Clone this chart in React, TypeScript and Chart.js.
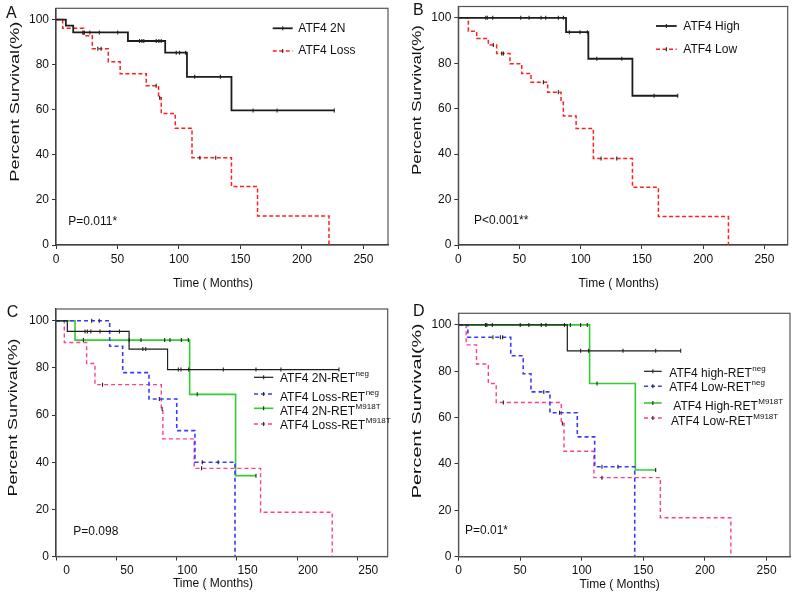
import React, { useEffect, useRef } from "react";
import { Chart, registerables } from "chart.js";

Chart.register(...registerables);

const FONT = "'Liberation Sans', Arial, Helvetica, sans-serif";

const X_TICKS = [0, 50, 100, 150, 200, 250];
const Y_TICKS = [0, 20, 40, 60, 80, 100];
const Y_MAX = 105;

// ---------- Panel A ----------
const A_2N_EVENT_TIME = [8, 14, 58.5, 88.8, 106.5, 142.7];
const A_2N_EVENT_SURV = [97.3, 94.3, 90.5, 85.3, 74.6, 59.7];
const A_2N_CENSOR_TIME = [21.7, 23, 27.5, 35.3, 50.2, 67.9, 69.8, 71.4, 81.5, 83.6, 85.6, 97.8, 100.5, 105.4, 112.8, 133.7, 160.3, 179.8, 226.3];
const A_LOSS_EVENT_TIME = [5.4, 22.5, 29.5, 42.5, 52.2, 73.4, 83.4, 85.6, 97, 110.6, 142.7, 163.9, 222];
const A_LOSS_EVENT_SURV = [96.1, 92.8, 87.1, 81.3, 76, 70.6, 65.3, 58.3, 51.8, 38.7, 25.9, 12.9, 0];
const A_LOSS_CENSOR_TIME = [34, 36.7, 81.5, 84.3, 117, 129.9];

// ---------- Panel B ----------
const B_HIGH_EVENT_TIME = [88, 106.2, 142.2];
const B_HIGH_EVENT_SURV = [93.7, 82, 65.7];
const B_HIGH_CENSOR_TIME = [22.4, 23.7, 28.1, 51, 57.8, 67.6, 71.4, 81.7, 85.8, 90.7, 99.4, 105.4, 113.1, 133.5, 159.9, 179.2];
const B_LOW_EVENT_TIME = [8.2, 15, 24.5, 31.3, 42.2, 51.8, 59.4, 73, 83.9, 85.8, 96.2, 110.3, 142.2, 163.4, 220.6];
const B_LOW_EVENT_SURV = [94.1, 90.9, 88, 84.3, 79.8, 75.5, 71.6, 67.2, 62.8, 56.8, 51.3, 38.1, 25.4, 12.5, 0];
const B_LOW_CENSOR_TIME = [28.6, 35.5, 36.8, 69.5, 81.7, 116.6, 129.4];

// ---------- Panel C ----------
const C_2N_NEG_EVENT_TIME = [9.4, 60.6, 92.5];
const C_2N_NEG_EVENT_SURV = [95.5, 88, 79.3];
const C_2N_NEG_CENSOR_TIME = [24.1, 26, 28.9, 36.5, 52.6, 72, 74.4, 101.4, 103.6, 110, 138.7, 165.8, 186.5, 234.6];
const C_LOSS_NEG_EVENT_TIME = [44.5, 55.3, 77.1, 100.1, 115.2, 148.4];
const C_LOSS_NEG_EVENT_SURV = [89.2, 78, 66.8, 53.4, 40, 0];
const C_LOSS_NEG_CENSOR_TIME = [29.6, 35.9, 85.7, 121.3, 134.5];
const C_2N_M918T_EVENT_TIME = [15.8, 110.8, 148.9];
const C_2N_M918T_EVENT_SURV = [91.8, 68.8, 34.3];
const C_2N_M918T_CENSOR_TIME = [22.7, 60.7, 70.5, 90.1, 94.5, 103.9, 109.7, 117.1, 165.8];
const C_LOSS_M918T_EVENT_TIME = [6.9, 25.4, 32.3, 87.3, 88.6, 114.6, 169.6, 229];
const C_LOSS_M918T_EVENT_SURV = [90.8, 81.9, 72.9, 62.6, 49.9, 37.4, 18.8, 0];
const C_LOSS_M918T_CENSOR_TIME = [38.6, 88, 120.7];

// ---------- Panel D ----------
const D_HIGH_NEG_EVENT_TIME = [88.3];
const D_HIGH_NEG_EVENT_SURV = [88.8];
const D_HIGH_NEG_CENSOR_TIME = [21.9, 23, 27.4, 50.1, 57.1, 67.2, 71, 86, 99.1, 105.6, 133.5, 160, 180.3];
const D_LOW_NEG_EVENT_TIME = [7.6, 42.4, 52.5, 58.8, 74.2, 96.4, 110.5, 143];
const D_LOW_NEG_EVENT_SURV = [94.7, 86.7, 78.9, 71.1, 62.1, 51.7, 38.8, 0];
const D_LOW_NEG_CENSOR_TIME = [27.9, 34, 35.8, 69.2, 82, 116.4, 129.4];
const D_HIGH_M918T_EVENT_TIME = [106.4, 143.5];
const D_HIGH_M918T_EVENT_SURV = [74.7, 37.4];
const D_HIGH_M918T_CENSOR_TIME = [90.8, 99.1, 104.5, 112.4, 160];
const D_LOW_M918T_EVENT_TIME = [6.2, 14.6, 24.2, 30.6, 83.4, 85.6, 109.9, 163.8, 221];
const D_LOW_M918T_EVENT_SURV = [91.4, 83.1, 74.7, 66.5, 57.5, 45.5, 34.1, 16.8, 0];
const D_LOW_M918T_CENSOR_TIME = [36.4, 84.3, 116.4];

type SeriesDef = {
  label: string;
  sup?: string;
  eventT: number[];
  eventS: number[];
  censorT: number[];
  color: string;
  width: number;
  dash: number[];
};

type PanelDef = {
  box: { left: number; top: number; w: number; h: number };
  area: { l: number; t: number; r: number; b: number };
  xMax: number;
  xLabelOffset: number;
  letter: { text: string; x: number; y: number };
  pval: { text: string; x: number; y: number };
  xTitle: { x: number; y: number };
  yTitle: { x: number; y: number; len: number };
  legend: { x1: number; x2: number; textX: number[]; lineY: number[]; textY: number[] };
  series: SeriesDef[];
};

const BLACK = "#1c1c1c";
const RED = "#ff1f1f";
const BLUE = "#3a3aff";
const GREEN = "#33cc33";
const PINK = "#ff3d8e";

const PANELS: PanelDef[] = [
  {
    box: { left: 0, top: 0, w: 400, h: 295 },
    area: { l: 56, t: 8.3, r: 388, b: 245 },
    xMax: 270,
    xLabelOffset: 0,
    letter: { text: "A", x: 6, y: 14 },
    pval: { text: "P=0.011*", x: 68.3, y: 221.7 },
    xTitle: { x: 213, y: 284 },
    yTitle: { x: 16, y: 101.7, len: 160 },
    legend: { x1: 272.7, x2: 292.7, textX: [298.3, 298.3], lineY: [28.3, 51], textY: [28.5, 51] },
    series: [
      { label: "ATF4 2N", eventT: A_2N_EVENT_TIME, eventS: A_2N_EVENT_SURV, censorT: A_2N_CENSOR_TIME, color: BLACK, width: 1.8, dash: [] },
      { label: "ATF4 Loss", eventT: A_LOSS_EVENT_TIME, eventS: A_LOSS_EVENT_SURV, censorT: A_LOSS_CENSOR_TIME, color: RED, width: 1.5, dash: [4, 2.5] },
    ],
  },
  {
    box: { left: 400, top: 0, w: 400, h: 295 },
    area: { l: 58.3, t: 6.5, r: 387.7, b: 245 },
    xMax: 269,
    xLabelOffset: 0,
    letter: { text: "B", x: 13, y: 11 },
    pval: { text: "P<0.001**", x: 74, y: 220.8 },
    xTitle: { x: 218.7, y: 283.7 },
    yTitle: { x: 17.2, y: 100, len: 150 },
    legend: { x1: 256, x2: 276.7, textX: [283.3, 283.3], lineY: [26, 49.3], textY: [26.2, 49.2] },
    series: [
      { label: "ATF4 High", eventT: B_HIGH_EVENT_TIME, eventS: B_HIGH_EVENT_SURV, censorT: B_HIGH_CENSOR_TIME, color: BLACK, width: 1.8, dash: [] },
      { label: "ATF4 Low", eventT: B_LOW_EVENT_TIME, eventS: B_LOW_EVENT_SURV, censorT: B_LOW_CENSOR_TIME, color: RED, width: 1.5, dash: [4, 2.5] },
    ],
  },
  {
    box: { left: 0, top: 295, w: 400, h: 304 },
    area: { l: 56, t: 14, r: 387.7, b: 261.5 },
    xMax: 275,
    xLabelOffset: 10.7,
    letter: { text: "C", x: 6.7, y: 17.5 },
    pval: { text: "P=0.098", x: 73.3, y: 236.7 },
    xTitle: { x: 213, y: 289 },
    yTitle: { x: 13.5, y: 122.5, len: 158 },
    legend: { x1: 254, x2: 273.3, textX: [280, 280, 280, 280], lineY: [82.3, 99, 113.3, 129], textY: [84, 102.5, 117, 131] },
    series: [
      { label: "ATF4 2N-RET", sup: "neg", eventT: C_2N_NEG_EVENT_TIME, eventS: C_2N_NEG_EVENT_SURV, censorT: C_2N_NEG_CENSOR_TIME, color: BLACK, width: 1.2, dash: [] },
      { label: "ATF4 Loss-RET", sup: "neg", eventT: C_LOSS_NEG_EVENT_TIME, eventS: C_LOSS_NEG_EVENT_SURV, censorT: C_LOSS_NEG_CENSOR_TIME, color: BLUE, width: 1.6, dash: [4, 3] },
      { label: "ATF4 2N-RET", sup: "M918T", eventT: C_2N_M918T_EVENT_TIME, eventS: C_2N_M918T_EVENT_SURV, censorT: C_2N_M918T_CENSOR_TIME, color: GREEN, width: 1.6, dash: [] },
      { label: "ATF4 Loss-RET", sup: "M918T", eventT: C_LOSS_M918T_EVENT_TIME, eventS: C_LOSS_M918T_EVENT_SURV, censorT: C_LOSS_M918T_CENSOR_TIME, color: PINK, width: 1.4, dash: [4, 3] },
    ],
  },
  {
    box: { left: 400, top: 295, w: 400, h: 304 },
    area: { l: 58.5, t: 18.3, r: 390, b: 261.7 },
    xMax: 269,
    xLabelOffset: 0,
    letter: { text: "D", x: 13, y: 16.7 },
    pval: { text: "P=0.01*", x: 65, y: 235.8 },
    xTitle: { x: 219.7, y: 290 },
    yTitle: { x: 17.2, y: 115.8, len: 175 },
    legend: { x1: 244, x2: 261.7, textX: [269.3, 269.3, 273.3, 271], lineY: [76.3, 91.3, 108, 123], textY: [79, 92.5, 111.3, 126.7] },
    series: [
      { label: "ATF4 high-RET", sup: "neg", eventT: D_HIGH_NEG_EVENT_TIME, eventS: D_HIGH_NEG_EVENT_SURV, censorT: D_HIGH_NEG_CENSOR_TIME, color: BLACK, width: 1.2, dash: [] },
      { label: "ATF4 Low-RET", sup: "neg", eventT: D_LOW_NEG_EVENT_TIME, eventS: D_LOW_NEG_EVENT_SURV, censorT: D_LOW_NEG_CENSOR_TIME, color: BLUE, width: 1.6, dash: [4, 3] },
      { label: "ATF4 High-RET", sup: "M918T", eventT: D_HIGH_M918T_EVENT_TIME, eventS: D_HIGH_M918T_EVENT_SURV, censorT: D_HIGH_M918T_CENSOR_TIME, color: GREEN, width: 1.6, dash: [] },
      { label: "ATF4 Low-RET", sup: "M918T", eventT: D_LOW_M918T_EVENT_TIME, eventS: D_LOW_M918T_EVENT_SURV, censorT: D_LOW_M918T_CENSOR_TIME, color: PINK, width: 1.4, dash: [4, 3] },
    ],
  },
];

type KmPoint = { x: number; y: number; c: boolean };

function kmPoints(eventT: number[], eventS: number[], censorT: number[]): KmPoint[] {
  const pts: KmPoint[] = [{ x: 0, y: 100, c: false }];
  eventT.forEach((t, i) => pts.push({ x: t, y: eventS[i], c: false }));
  censorT.forEach((t) => {
    let lvl = 100;
    eventT.forEach((et, i) => {
      if (et <= t) lvl = eventS[i];
    });
    pts.push({ x: t, y: lvl, c: true });
  });
  pts.sort((a, b) => a.x - b.x);
  return pts;
}

function decorPlugin(p: PanelDef) {
  return {
    id: "kmDecor",
    beforeDatasetsDraw(chart: any) {
      const { ctx, chartArea: a } = chart;
      ctx.save();
      ctx.strokeStyle = "#555";
      ctx.lineWidth = 1.2;
      ctx.strokeRect(a.left, a.top, a.right - a.left, a.bottom - a.top);
      ctx.restore();
    },
    afterDraw(chart: any) {
      const ctx: CanvasRenderingContext2D = chart.ctx;
      ctx.save();
      ctx.fillStyle = "#111";
      ctx.textBaseline = "middle";
      ctx.textAlign = "left";
      ctx.font = `16px ${FONT}`;
      ctx.fillText(p.letter.text, p.letter.x, p.letter.y);
      ctx.font = `12px ${FONT}`;
      ctx.fillText(p.pval.text, p.pval.x, p.pval.y);
      ctx.textAlign = "center";
      ctx.fillText("Time ( Months)", p.xTitle.x, p.xTitle.y);
      // y title, stretched along the axis as in the reference
      ctx.save();
      ctx.translate(p.yTitle.x, p.yTitle.y);
      ctx.rotate(-Math.PI / 2);
      const yt = "Percent Survival(%)";
      const w = ctx.measureText(yt).width;
      ctx.scale(p.yTitle.len / w, 1);
      ctx.fillText(yt, 0, 0);
      ctx.restore();
      // legend
      const L = p.legend;
      p.series.forEach((s, i) => {
        const ly = L.lineY[i];
        ctx.save();
        ctx.strokeStyle = s.color;
        ctx.lineWidth = s.width;
        ctx.setLineDash(s.dash);
        ctx.beginPath();
        ctx.moveTo(L.x1, ly);
        ctx.lineTo(L.x2, ly);
        ctx.stroke();
        ctx.setLineDash([]);
        ctx.strokeStyle = "#222";
        ctx.lineWidth = 1.1;
        const mx = (L.x1 + L.x2) / 2;
        ctx.beginPath();
        ctx.moveTo(mx, ly - 2);
        ctx.lineTo(mx, ly + 2);
        ctx.stroke();
        ctx.restore();
        ctx.textAlign = "left";
        ctx.font = `12px ${FONT}`;
        const tx = L.textX[i];
        const ty = L.textY[i];
        ctx.fillText(s.label, tx, ty);
        if (s.sup) {
          const w2 = ctx.measureText(s.label).width;
          ctx.font = `8px ${FONT}`;
          ctx.fillText(s.sup, tx + w2 + 0.5, ty - 5);
        }
      });
      ctx.restore();
    },
  };
}

function buildConfig(p: PanelDef): any {
  const datasets = p.series.map((s) => {
    const pts = kmPoints(s.eventT, s.eventS, s.censorT);
    return {
      label: s.sup ? s.label + s.sup : s.label,
      data: pts,
      stepped: true,
      borderColor: s.color,
      borderWidth: s.width,
      borderDash: s.dash,
      fill: false,
      pointRadius: pts.map((q) => (q.c ? 2 : 0)),
      pointHoverRadius: 0,
      pointStyle: "line",
      rotation: 90,
      pointBorderColor: "#222",
      pointBackgroundColor: "#222",
      pointBorderWidth: 1.1,
    };
  });
  const xH = p.box.h - p.area.b;
  const yW = p.area.l;
  return {
    type: "line",
    data: { datasets },
    plugins: [decorPlugin(p)],
    options: {
      responsive: false,
      animation: false,
      events: [],
      devicePixelRatio: 1,
      layout: { padding: { left: 0, top: p.area.t, right: p.box.w - p.area.r, bottom: 0 } },
      plugins: { legend: { display: false }, tooltip: { enabled: false }, title: { display: false } },
      scales: {
        x: {
          type: "linear",
          min: 0,
          max: p.xMax,
          afterBuildTicks: (s: any) => {
            s.ticks = X_TICKS.map((v) => ({ value: v }));
          },
          afterFit: (s: any) => {
            s.height = xH;
            s.paddingLeft = 0;
            s.paddingRight = 0;
            s.paddingTop = 0;
            s.paddingBottom = 0;
          },
          grid: { drawOnChartArea: false, drawTicks: true, tickLength: 4, color: "#333", tickColor: "#333" },
          border: { display: true, color: "#222", width: 1.2 },
          ticks: {
            font: { family: FONT, size: 12 },
            color: "#111",
            padding: 3,
            maxRotation: 0,
            autoSkip: false,
            labelOffset: p.xLabelOffset,
          },
          title: { display: false },
        },
        y: {
          type: "linear",
          min: 0,
          max: Y_MAX,
          afterBuildTicks: (s: any) => {
            s.ticks = Y_TICKS.map((v) => ({ value: v }));
          },
          afterFit: (s: any) => {
            s.width = yW;
            s.paddingLeft = 0;
            s.paddingRight = 0;
            s.paddingTop = 0;
            s.paddingBottom = 0;
          },
          grid: { drawOnChartArea: false, drawTicks: true, tickLength: 4, color: "#333", tickColor: "#333" },
          border: { display: true, color: "#222", width: 1.2 },
          ticks: { font: { family: FONT, size: 12 }, color: "#111", padding: 3, autoSkip: false },
          title: { display: false },
        },
      },
    },
  };
}

function Panel({ def }: { def: PanelDef }) {
  const ref = useRef<HTMLCanvasElement | null>(null);
  useEffect(() => {
    if (!ref.current) return;
    const chart = new Chart(ref.current, buildConfig(def));
    return () => chart.destroy();
  }, [def]);
  return (
    <canvas
      ref={ref}
      width={def.box.w}
      height={def.box.h}
      style={{ position: "absolute", left: def.box.left, top: def.box.top, width: def.box.w, height: def.box.h }}
    />
  );
}

export default function App() {
  return (
    <div style={{ position: "absolute", left: 0, top: 0, width: 800, height: 599, background: "#fff", overflow: "hidden" }}>
      {PANELS.map((p, i) => (
        <Panel key={i} def={p} />
      ))}
    </div>
  );
}
